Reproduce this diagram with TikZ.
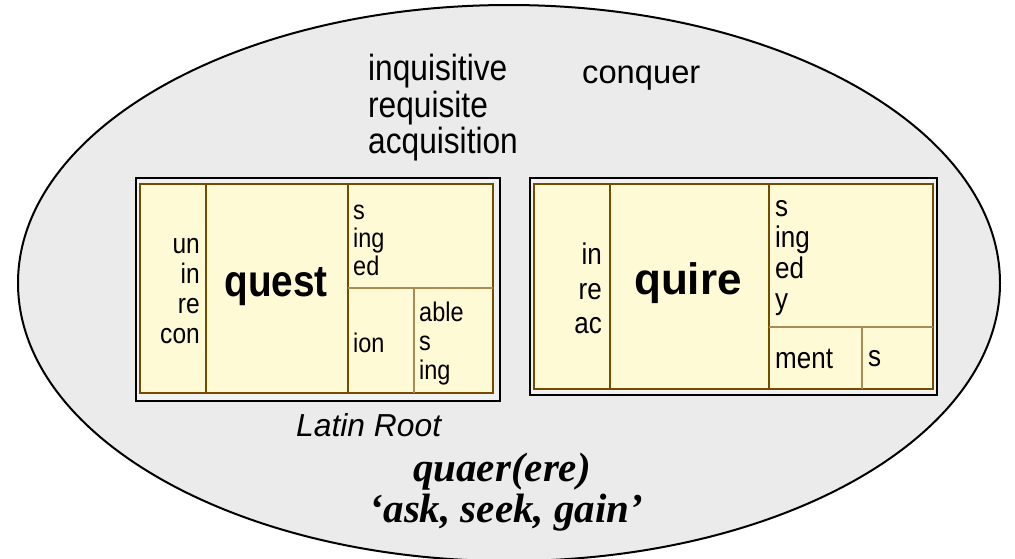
\documentclass[tikz,border=0pt]{standalone}
\usepackage{fontspec}
\newfontfamily\hel{Liberation Sans}
\newfontfamily\helc[FakeStretch=0.87]{Liberation Sans}
\newfontfamily\tms{Liberation Serif}
\definecolor{bg}{HTML}{EBEBEB}
\definecolor{boxfill}{HTML}{FFFAD6}
\definecolor{framebrown}{HTML}{734C00}
\definecolor{lightbrown}{HTML}{A88C55}
\definecolor{gapgray}{HTML}{F2F2F2}
\tikzset{
  outerframe/.style={draw=black, line width=2.5pt, fill=gapgray},
  innerframe/.style={draw=framebrown, line width=2.8pt, fill=boxfill},
  mainsplit/.style={draw=framebrown, line width=2.8pt},
  subsplit/.style={draw=lightbrown, line width=1.6pt},
  txt/.style={inner sep=0pt, font=\helc},
  pre/.style={txt, anchor=east, align=right},
  suf/.style={txt, anchor=west, align=left},
}
\begin{document}
\begin{tikzpicture}[x=1pt,y=-1pt]
\useasboundingbox (0,0) rectangle (1015,558);
\clip (0,0) rectangle (1015,558);
\draw[fill=bg, line width=2pt] (509,283) ellipse [x radius=491, y radius=278];

% top words
\node[suf, font=\helc\fontsize{36.4}{36.5}\selectfont] (words) at (368,108) {inquisitive\\requisite\\acquisition};
\node[txt, anchor=base west, font=\hel\fontsize{32.7}{36}\selectfont] (conquer) at (582,83) {conquer};

% left box
\draw[outerframe] (136,178) rectangle (500,401);
\draw[innerframe] (140,184) rectangle (493,393);
\draw[mainsplit] (206,184) -- (206,393);
\draw[mainsplit] (348,184) -- (348,393);
\draw[subsplit] (348,288) -- (493,288);
\draw[subsplit] (414,288) -- (414,393);
\node[pre, font=\helc\fontsize{28.2}{30}\selectfont] (pre1) at (200,291) {un\\in\\re\\con};
\node[txt, font=\helc\bfseries\fontsize{44.5}{46}\selectfont] (quest) at (276,287) {quest};
\node[suf, font=\helc\fontsize{27}{28}\selectfont] (sufa) at (353,240) {s\\ing\\ed};
\node[suf, font=\helc\fontsize{27}{28}\selectfont] (ion) at (353,343) {ion};
\node[suf, font=\helc\fontsize{27}{29}\selectfont] (sufb) at (419,344) {able\\s\\ing};

% right box
\draw[outerframe] (530,178) rectangle (937,395);
\draw[innerframe] (534,184) rectangle (933,389);
\draw[mainsplit] (610,184) -- (610,389);
\draw[mainsplit] (769,184) -- (769,389);
\draw[subsplit] (769,327) -- (933,327);
\draw[subsplit] (862,327) -- (862,389);
\node[pre, font=\helc\fontsize{29.9}{34.5}\selectfont] (pre2) at (602,288.5) {in\\re\\ac};
\node[txt, font=\hel\bfseries\fontsize{44}{46}\selectfont] (quire) at (688,283) {quire};
\node[suf, font=\helc\fontsize{29.9}{31}\selectfont] (sufc) at (775,258.5) {s\\ing\\ed\\y};
\node[suf, font=\helc\fontsize{29.9}{31}\selectfont] (ment) at (775,359) {ment};
\node[suf, font=\helc\fontsize{29.9}{31}\selectfont] (s2) at (868,359) {s};

% bottom labels
\node[suf, font=\hel\itshape\fontsize{31.8}{35}\selectfont] (latin) at (296,425) {Latin Root};
\node[txt, font=\tms\bfseries\itshape\fontsize{41}{44}\selectfont] (root) at (502,472) {quaer(ere)};
\node[txt, font=\tms\bfseries\itshape\fontsize{41}{44}\selectfont] (gloss) at (506.5,513) {‘ask, seek, gain’};
\end{tikzpicture}
\end{document}
